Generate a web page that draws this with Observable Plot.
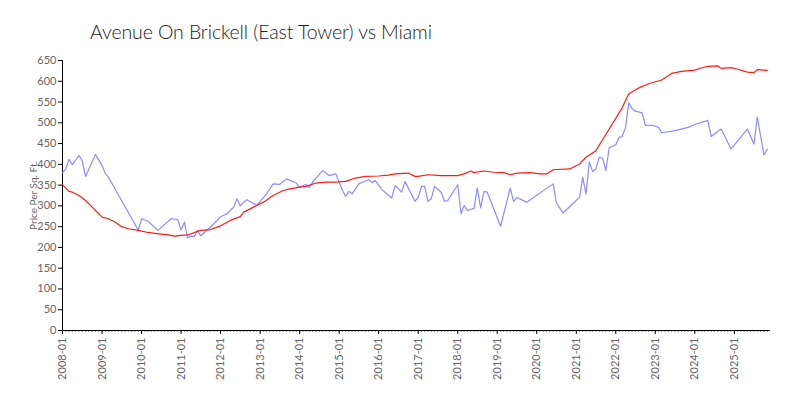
<!DOCTYPE html>
<html>
<head>
<meta charset="utf-8">
<script src="https://cdn.jsdelivr.net/npm/d3@7"></script>
<script src="https://cdn.jsdelivr.net/npm/@observablehq/plot@0.6"></script>
<style>
  body { margin: 0; background: #fff; font-family: "Lato", "Open Sans", sans-serif; }
  #wrap { position: relative; width: 800px; height: 400px; }
  #title { position: absolute; left: 90px; top: 20px; font-size: 19.5px; font-weight: 300; color: #222; letter-spacing: -0.1px; z-index: 2; }
  svg { font-family: "Lato", "Open Sans", sans-serif; }
</style>
</head>
<body>
<div id="wrap">
  <div id="title">Avenue On Brickell (East Tower) vs Miami</div>
  <div id="chart"></div>
</div>
<script>
const miamiMonths = ["2008-01","2008-03","2008-04","2008-06","2008-08","2008-10","2008-11","2009-01","2009-03","2009-05","2009-07","2009-09","2009-12","2010-03","2010-05","2010-09","2010-11","2011-01","2011-03","2011-07","2011-10","2012-01","2012-04","2012-07","2012-08","2012-11","2013-02","2013-05","2013-08","2013-10","2014-01","2014-03","2014-06","2014-09","2014-12","2015-03","2015-06","2015-09","2016-01","2016-04","2016-06","2016-10","2016-12","2017-01","2017-04","2017-08","2018-01","2018-03","2018-05","2018-06","2018-09","2018-12","2019-03","2019-05","2019-07","2019-11","2020-02","2020-04","2020-06","2020-11","2021-02","2021-04","2021-07","2021-08","2021-11","2022-03","2022-05","2022-08","2022-11","2023-03","2023-06","2023-09","2024-01","2024-03","2024-05","2024-08","2024-09","2024-12","2025-02","2025-05","2025-07","2025-08","2025-11"];
const miamiValues = [351,335,333,325,313,297,289,273,269,261,250,245,241,236,234,230,227,229,230,241,243,252,265,274,285,297,309,325,337,341,345,347,355,357,357,359,367,371,372,374,377,379,371,371,375,373,373,377,384,380,384,381,380,375,379,380,377,377,387,389,401,417,433,446,485,536,570,584,594,603,619,624,627,632,636,637,631,633,629,622,621,628,626];

const buildingMonths = ["2008-01","2008-02","2008-03","2008-04","2008-06","2008-07","2008-08","2008-11","2009-01","2009-02","2009-03","2009-12","2010-01","2010-03","2010-06","2010-10","2010-12","2011-01","2011-02","2011-03","2011-04","2011-05","2011-06","2011-07","2011-09","2011-11","2012-01","2012-03","2012-05","2012-06","2012-07","2012-08","2012-09","2012-12","2013-03","2013-05","2013-07","2013-09","2013-12","2014-01","2014-03","2014-04","2014-05","2014-08","2014-10","2014-12","2015-01","2015-02","2015-03","2015-04","2015-05","2015-07","2015-09","2015-10","2015-11","2015-12","2016-02","2016-05","2016-06","2016-08","2016-09","2016-12","2017-01","2017-02","2017-03","2017-04","2017-05","2017-06","2017-08","2017-09","2017-10","2018-01","2018-02","2018-03","2018-04","2018-06","2018-07","2018-08","2018-09","2018-10","2019-02","2019-05","2019-06","2019-07","2019-10","2020-06","2020-07","2020-09","2021-02","2021-03","2021-04","2021-05","2021-06","2021-07","2021-08","2021-09","2021-10","2021-11","2022-01","2022-02","2022-03","2022-04","2022-05","2022-06","2022-07","2022-09","2022-10","2022-12","2023-02","2023-03","2023-07","2023-11","2024-01","2024-05","2024-06","2024-09","2024-12","2025-05","2025-07","2025-08","2025-10","2025-11"];
const buildingValues = [380,389,412,399,421,409,371,424,397,377,369,242,269,263,241,269,267,242,261,223,227,226,241,228,242,257,274,281,297,317,300,309,315,301,329,353,352,365,355,345,352,344,357,385,373,377,357,337,323,335,329,353,360,363,356,361,339,319,349,333,359,311,321,347,347,311,317,347,333,311,313,351,281,301,289,294,343,295,335,333,251,343,311,320,309,353,307,283,321,369,329,405,383,389,417,415,385,440,447,465,467,489,548,534,528,524,494,494,489,476,481,489,496,506,467,485,437,485,449,514,423,437];

const yTicks = d3.range(0, 651, 50);
const parse = d3.utcParse("%Y-%m");
const miami = miamiMonths.map((m, i) => ({date: parse(m), value: miamiValues[i]}));
const building = buildingMonths.map((m, i) => ({date: parse(m), value: buildingValues[i]}));
const xDomain = [parse("2008-01"), parse("2025-12")];
const years = d3.utcYear.range(parse("2008-01"), parse("2026-01"));
const months = d3.utcMonth.range(parse("2008-01"), parse("2025-12"));

const chart = Plot.plot({
  width: 800,
  height: 400,
  marginLeft: 62,
  marginRight: 30,
  marginTop: 60,
  marginBottom: 70,
  style: {fontSize: "11px", color: "#666", background: "white"},
  x: {type: "utc", domain: xDomain},
  y: {domain: [0, 650]},
  marks: [
    Plot.axisX({ticks: months, tickSize: 2, text: null, stroke: "#888"}),
    Plot.axisX({ticks: years, tickSize: 4, tickFormat: d3.utcFormat("%Y-%m"), tickRotate: -90, tickPadding: 3, fill: "#666", stroke: "black", label: null}),
    Plot.axisY({ticks: yTicks, tickSize: 4, tickPadding: 2, fill: "#666", stroke: "black", label: null}),
    Plot.text(["Price Per Sq. Ft."], {frameAnchor: "left", dx: -29, rotate: -90, fontSize: 10, fill: "#666", textAnchor: "middle"}),
    Plot.ruleY([0], {stroke: "black"}),
    Plot.ruleX([xDomain[0]], {stroke: "black"}),
    Plot.line(building, {x: "date", y: "value", stroke: "#8c8cff", strokeWidth: 1.2}),
    Plot.line(miami, {x: "date", y: "value", stroke: "#ff1a1a", strokeWidth: 1.2})
  ]
});
document.getElementById("chart").appendChild(chart);
</script>
</body>
</html>
